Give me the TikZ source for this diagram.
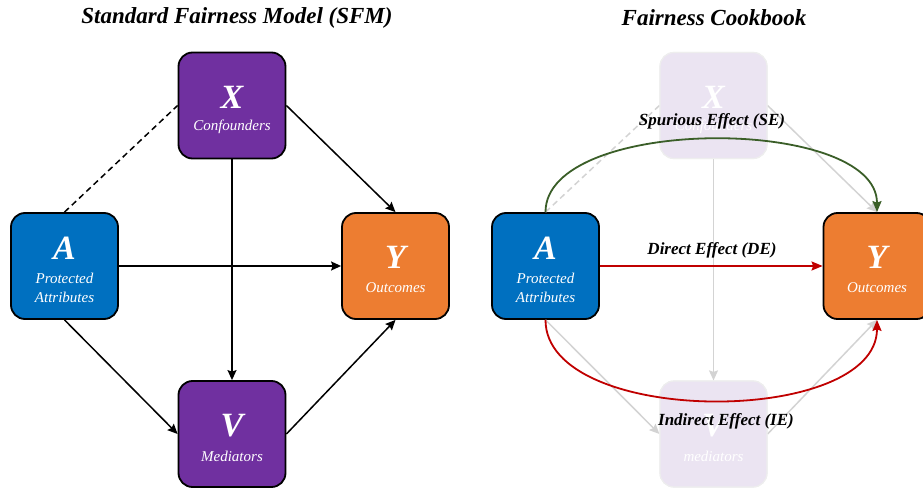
\documentclass[tikz,border=0pt]{standalone}
\usepackage{fontspec}
\setmainfont{Liberation Serif}
\usetikzlibrary{arrows.meta}

\definecolor{attrblue}{HTML}{0070C0}
\definecolor{confpurple}{HTML}{7030A0}
\definecolor{outorange}{HTML}{ED7D31}
\definecolor{fadefill}{HTML}{EBE4F2}
\definecolor{fadeline}{HTML}{EEEEEE}
\definecolor{edgegray}{HTML}{D3D3D3}
\definecolor{segreen}{HTML}{3A5E28}
\definecolor{effred}{HTML}{C00000}

\begin{document}
\begin{tikzpicture}[x=1pt, y=-1pt,
    varbox/.style={draw=black, line width=1.8pt, rounded corners=14pt,
      minimum width=107pt, minimum height=106pt, inner sep=0pt},
    fadebox/.style={varbox, draw=fadeline, fill=fadefill, line width=1.2pt},
    sym/.style={text=white, inner sep=0pt, font=\fontsize{34}{34}\selectfont\bfseries\itshape},
    sub/.style={text=white, inner sep=0pt, align=center, font=\fontsize{15}{19}\selectfont\itshape},
    heading/.style={inner sep=0pt, font=\fontsize{23}{23}\selectfont\bfseries\itshape},
    efflabel/.style={inner sep=0pt, font=\fontsize{17}{17}\selectfont\bfseries\itshape},
    causal/.style={line width=1.5pt, -{Stealth[length=10pt, width=9pt, inset=1.5pt]}},
    effect/.style={line width=1.8pt, -{Stealth[length=11pt, width=9pt, inset=1.5pt]}}]
  \clip (0,0) rectangle (923,489);

  % Titel links en rechts
  \node[heading] (sfm-title) at (237,18) {Standard Fairness Model (SFM)};
  \node[heading] (fc-title) at (714,18) {Fairness Cookbook};

  % Linkerpaneel: knopen
  \node[varbox, fill=confpurple] (X) at (232,105.5) {};
  \node[sym] (X-sym) at ([yshift=8.5pt]X.center) {X};
  \node[sub] (X-sub) at ([yshift=-21.5pt]X.center) {Confounders};

  \node[varbox, fill=attrblue] (A) at (64.5,266) {};
  \node[sym] (A-sym) at ([yshift=18pt]A.center) {A};
  \node[sub] (A-sub) at ([yshift=-21.5pt]A.center) {Protected\\Attributes};

  \node[varbox, fill=outorange] (Y) at (395.5,266) {};
  \node[sym] (Y-sym) at ([yshift=9pt]Y.center) {Y};
  \node[sub] (Y-sub) at ([yshift=-22pt]Y.center) {Outcomes};

  \node[varbox, fill=confpurple] (V) at (232,434) {};
  \node[sym] (V-sym) at ([yshift=8pt]V.center) {V};
  \node[sub] (V-sub) at ([yshift=-22pt]V.center) {Mediators};

  % Linkerpaneel: pijlen
  \draw[line width=1.5pt, dash pattern=on 6pt off 4pt] (A.north) -- (X.west);
  \draw[causal] (X.east) -- (Y.north);
  \draw[causal] (X.south) -- (V.north);
  \draw[causal] (A.east) -- (Y.west);
  \draw[causal] (A.south) -- (V.west);
  \draw[causal] (V.east) -- (Y.south);

  % Rechterpaneel: vervaagde knopen
  \node[fadebox] (X2) at (713.5,105.5) {};
  \node[varbox, fill=attrblue] (A2) at (545.5,266) {};
  \node[varbox, fill=outorange] (Y2) at (877,266) {};
  \node[fadebox] (V2) at (713.5,434) {};

  % Rechterpaneel: grijze pijlen
  \begin{scope}[edgegray]
    \draw[line width=1.5pt, dash pattern=on 6pt off 4pt] (A2.north) -- (X2.west);
    \draw[causal] (X2.east) -- (Y2.north);
    \draw[causal] (X2.south) -- (V2.north);
    \draw[causal] (A2.south) -- (V2.west);
    \draw[causal] (V2.east) -- (Y2.south);
  \end{scope}

  % Rechterpaneel: knoopteksten
  \node[fadebox] (X2-box) at (X2) {};
  \node[fadebox] (V2-box) at (V2) {};
  \node[sym] (X2-sym) at ([yshift=8.5pt]X2.center) {X};
  \node[sub] (X2-sub) at ([yshift=-21.5pt]X2.center) {Confounders};
  \node[sym] (A2-sym) at ([yshift=18pt]A2.center) {A};
  \node[sub] (A2-sub) at ([yshift=-21.5pt]A2.center) {Protected\\Attributes};
  \node[sym] (Y2-sym) at ([yshift=9pt]Y2.center) {Y};
  \node[sub] (Y2-sub) at ([yshift=-22pt]Y2.center) {Outcomes};
  \node[sym] (V2-sym) at ([yshift=8pt]V2.center) {V};
  \node[sub] (V2-sub) at ([yshift=-22pt]V2.center) {mediators};

  % Effecten
  \draw[effect, segreen] (A2.north) to[out=90, in=90, looseness=0.75] (Y2.north);
  \draw[effect, effred] (A2.east) -- (Y2.west);
  \draw[effect, effred] (A2.south) to[out=-90, in=-90, looseness=0.83] (Y2.south);

  \node[efflabel] (se-label) at (712,121) {Spurious Effect (SE)};
  \node[efflabel] (de-label) at (712,250) {Direct Effect (DE)};
  \node[efflabel] (ie-label) at (726,421) {Indirect Effect (IE)};
\end{tikzpicture}
\end{document}
